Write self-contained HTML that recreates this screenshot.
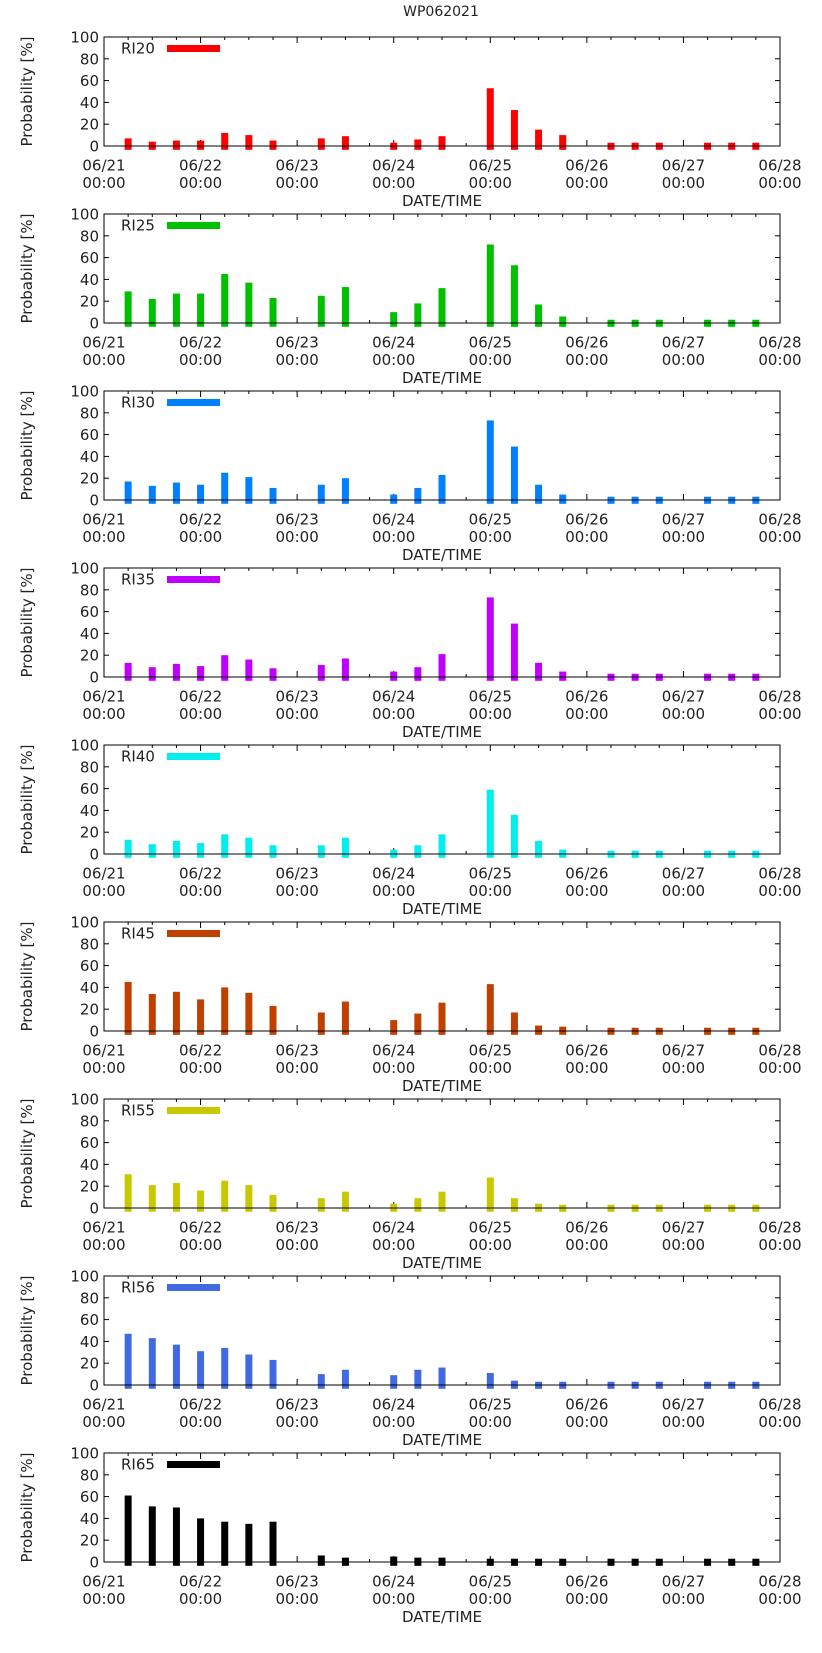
<!DOCTYPE html>
<html><head><meta charset="utf-8"><style>
body{margin:0;background:#fff}
svg{display:block}
text{font-family:"DejaVu Sans","Liberation Sans",sans-serif;fill:#222}
</style></head><body>
<svg id="chart" width="822" height="1653" xmlns="http://www.w3.org/2000/svg">
<text x="441" y="16" font-size="14" text-anchor="middle">WP062021</text>
</svg>
<script>
const panelNames = ["RI20","RI25","RI30","RI35","RI40","RI45","RI55","RI56","RI65"];
const panelColors = ["#ff0000","#00c000","#0080ff","#c000ff","#00eeee","#c04000","#c8c800","#4169e1","#000000"];
const slots = [1,2,3,4,5,6,7,9,10,12,13,14,16,17,18,19,21,22,23,25,26,27];
const ri20 = [7,4,5,5,12,10,5,7,9,3,6,9,53,33,15,10,3,3,3,3,3,3];
const ri25 = [29,22,27,27,45,37,23,25,33,10,18,32,72,53,17,6,3,3,3,3,3,3];
const ri30 = [17,13,16,14,25,21,11,14,20,5,11,23,73,49,14,5,3,3,3,3,3,3];
const ri35 = [13,9,12,10,20,16,8,11,17,5,9,21,73,49,13,5,3,3,3,3,3,3];
const ri40 = [13,9,12,10,18,15,8,8,15,4,8,18,59,36,12,4,3,3,3,3,3,3];
const ri45 = [45,34,36,29,40,35,23,17,27,10,16,26,43,17,5,4,3,3,3,3,3,3];
const ri55 = [31,21,23,16,25,21,12,9,15,4,9,15,28,9,4,3,3,3,3,3,3,3];
const ri56 = [47,43,37,31,34,28,23,10,14,9,14,16,11,4,3,3,3,3,3,3,3,3];
const ri65 = [61,51,50,40,37,35,37,6,4,5,4,4,3,3,3,3,3,3,3,3,3,3];
const series = [ri20,ri25,ri30,ri35,ri40,ri45,ri55,ri56,ri65];
const xDays = ["06/21","06/22","06/23","06/24","06/25","06/26","06/27","06/28"];
const yTicks = [0,20,40,60,80,100];

const NS="http://www.w3.org/2000/svg";
const svg=document.getElementById('chart');
const L=104,R=780,H=109,PITCH=177,Y0=146;
function mk(tag,attrs,parent){const e=document.createElementNS(NS,tag);for(const k in attrs)e.setAttribute(k,attrs[k]);(parent||svg).appendChild(e);return e;}
function xs(slot){return L+(R-L)*slot/28;}
series.forEach((vals,p)=>{
  const base=Y0+p*PITCH;
  const ys=v=>base-v*H/100;
  const g=mk('g',{});
  
  
  for(let s=0;s<=28;s++){
    const x=xs(s),len=(s%4===0)?6:3;
    mk('line',{x1:x,x2:x,y1:base,y2:base-len,stroke:'#000','stroke-width':1},g);
    mk('line',{x1:x,x2:x,y1:base-H,y2:base-H+len,stroke:'#000','stroke-width':1},g);
  }
  yTicks.forEach(t=>{
    const y=ys(t);
    mk('line',{x1:L,x2:L+5,y1:y,y2:y,stroke:'#000'},g);
    mk('line',{x1:R,x2:R-5,y1:y,y2:y,stroke:'#000'},g);
    const tx=mk('text',{x:99,y:y+5.5,'font-size':15,'text-anchor':'end'},g);
    tx.textContent=t;
    
    
  });
  xDays.forEach((d,i)=>{
    const x=xs(i*4);
    const t1=mk('text',{x:x,y:base+24.5,'font-size':15,'text-anchor':'middle'},g);
    t1.textContent=d;
    
    
    const t2=mk('text',{x:x,y:base+42,'font-size':15,'text-anchor':'middle'},g);
    t2.textContent='00:00';
    
    
  });
  const xl=mk('text',{x:442,y:base+60,'font-size':15,'text-anchor':'middle'},g);
  xl.textContent='DATE/TIME';
  
  
  const yl=mk('text',{x:0,y:0,'font-size':15,'text-anchor':'middle',transform:`translate(32,${base-H/2}) rotate(-90)`},g);
  yl.textContent='Probability [%]';
  
  
  vals.forEach((v,i)=>{
    const x=xs(slots[i]);
    const top=ys(v),bot=ys(-3.5);
    const b=mk('rect',{x:x-3.5,y:top,width:7,height:bot-top,fill:panelColors[p]},g);
    
    
  });
  mk('rect',{x:L,y:base-H,width:R-L,height:H,fill:'none',stroke:'#000','stroke-width':1},g);
  const lt=mk('text',{x:121,y:base-H+16.5,'font-size':15},g);
  lt.textContent=panelNames[p];
  
  
  const ll=mk('rect',{x:167,y:base-H+8,width:53,height:7,fill:panelColors[p]},g);
  
  
});
</script>
</body></html>
